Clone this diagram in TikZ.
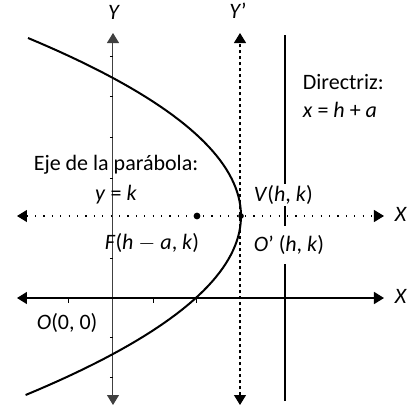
\documentclass[tikz,border=0pt]{standalone}
\usepackage{fontspec}
\setmainfont{Carlito}
\usetikzlibrary{arrows.meta}

\begin{document}
\begin{tikzpicture}[x=0.5pt,y=0.5pt,yscale=-1,xscale=1,
  every node/.style={font=\fontsize{11}{13}\selectfont, inner sep=0.75pt},
  axisline/.style={{Triangle[length=5pt,width=6pt]}-{Triangle[length=5pt,width=6pt]}},
  ptdot/.style={circle, fill=black, inner sep=1.2pt}]
\useasboundingbox (0,0) rectangle (409,408);

%Points
\coordinate (yT) at (113,33);
\coordinate (yB) at (113,405);
\coordinate (ypT) at (240,33);
\coordinate (ypB) at (240,405);
\coordinate (xpL) at (17,216);
\coordinate (xpR) at (384,216);
\coordinate (xL) at (17,298);
\coordinate (xR) at (384,298);
\coordinate (dT) at (285,35);
\coordinate (dB) at (285,401);

%Straight Lines: eje Y
\draw [axisline, line width=0.5pt, black!75] (yB) -- (yT);
\foreach \t in {56,96,137,178,258,337,377}
  \draw [line width=0.5pt] (110,\t) -- (113,\t);
%Straight Lines: eje X
\draw [axisline, line width=0.8pt] (xL) -- (xR);
\foreach \t in {69,154,197}
  \draw [line width=0.5pt] (\t,298) -- (\t,303);
%Straight Lines: eje Y' (dashed)
\draw [axisline, line width=0.6pt, dash pattern=on 1.5pt off 1.5pt] (ypB) -- (ypT);
%Straight Lines: eje X' (dotted)
\draw [axisline, line width=0.6pt, dash pattern=on 0.6pt off 3.6pt] (xpL) -- (xpR);
%Straight Lines: directriz
\draw [line width=1.2pt] (dB) -- (dT);

%Curve: parabola
\draw [line width=1pt, variable=\t] plot [domain=-178:179, samples=80] ({241-(0.08198*\t)^2},{216+\t});

%Shape: foco y vertice
\node (F) [ptdot] at (197,216) {};
\node (V) [ptdot, inner sep=1pt] at (241,216) {};

% Text Node
\draw (114,12) node (lblY) {\textit{Y}};
% Text Node
\draw (238,11) node (lblYp) {\textit{Y}'};
% Text Node
\draw (301,89) node (lblDir) [anchor=base west] {Directriz:};
% Text Node
\draw (301,117) node (lblDirEq) [anchor=base west] {\textit{x} = \textit{h} + \textit{a}};
% Text Node
\draw (116,170) node (lblEje) [anchor=base] {Eje de la parábola:};
% Text Node
\draw (116,200) node (lblEjeEq) [anchor=base] {\textit{y} = \textit{k}};
% Text Node
\draw (103,249) node (lblF) [anchor=base west] {\textit{F}(\textit{h} $-$ \textit{a}, \textit{k})};
% Text Node
\draw (252,195) node (lblV) [anchor=west, fill=white] {\textit{V}(\textit{h}, \textit{k})};
% Text Node
\draw (252,245) node (lblOp) [anchor=west, fill=white, inner ysep=4.5pt] {\textit{O}' (\textit{h}, \textit{k})};
% Text Node
\draw (35,323) node (lblO) [anchor=west] {\textit{O}(0, 0)};
% Text Node
\draw (401,214) node (lblXp) {\textit{X}};
% Text Node
\draw (401,296) node (lblX) {\textit{X}};
\end{tikzpicture}
\end{document}
